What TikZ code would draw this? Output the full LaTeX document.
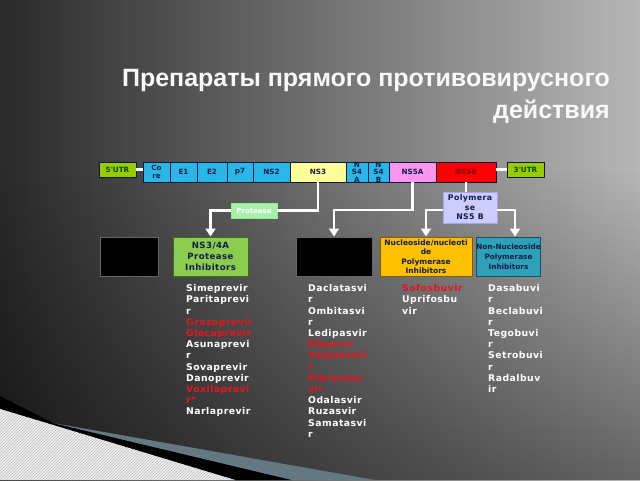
\documentclass[tikz,border=0pt]{standalone}
\usepackage{fontspec}
\setmainfont{Liberation Sans}
\newfontfamily\djv{DejaVu Sans}
\newfontfamily\djvs{DejaVu Sans}[LetterSpace=5]
\usetikzlibrary{arrows.meta,fadings,patterns}
\definecolor{bgL}{RGB}{42,42,42}
\definecolor{bgM}{RGB}{155,155,155}
\definecolor{bgR}{RGB}{182,182,182}
\definecolor{utrg}{RGB}{153,204,0}
\definecolor{cyanc}{RGB}{41,182,232}
\definecolor{ylw}{RGB}{255,255,153}
\definecolor{pnk}{RGB}{250,150,240}
\definecolor{rd}{RGB}{255,0,0}
\definecolor{navy}{RGB}{15,30,70}
\definecolor{protg}{RGB}{170,240,170}
\definecolor{lav}{RGB}{204,204,255}
\definecolor{grn}{RGB}{140,205,80}
\definecolor{grnb}{RGB}{60,110,30}
\definecolor{org}{RGB}{255,192,0}
\definecolor{orgb}{RGB}{130,90,20}
\definecolor{teal}{RGB}{46,160,185}
\definecolor{tealb}{RGB}{20,80,100}
\definecolor{lred}{RGB}{230,20,30}
\definecolor{bluegray}{RGB}{100,120,130}
\begin{document}
\begin{tikzpicture}[x=1pt,y=-1pt,
  cell/.style={draw=navy!80!black, line width=0.9pt, fill=cyanc, minimum height=20pt,
    inner sep=0pt, align=center, text=navy, font=\djv\bfseries\fontsize{7.2}{7.4}\selectfont},
  utr/.style={cell, fill=utrg, minimum height=15pt, text=black!70!green},
  bigbox/.style={draw, line width=1pt, minimum height=39pt, inner sep=0pt, align=center,
    text=navy, font=\djvs\bfseries\fontsize{8.6}{11}\selectfont},
  blkbox/.style={bigbox, fill=black, draw=black!60!white},
  conn/.style={draw=white, line width=2.2pt},
  arr/.style={conn, -{Triangle[width=10pt,length=8pt]}},
  druglist/.style={anchor=north west, inner sep=0pt, align=left, text=white,
    font=\djvs\bfseries\fontsize{9.3}{11.2}\selectfont}
]
\useasboundingbox (0,0) rectangle (640,480);
% background
\shade[left color=bgL, middle color=bgM, right color=bgR] (0,0) rectangle (640,480);
\fill[black, opacity=0.45, path fading=north] (0,170) rectangle (640,480);
% bottom-left decoration
\fill[black] (0,396) -- (53,423) -- (292,480) -- (235,480) -- (0,409) -- cycle;
\fill[bluegray] (53,423) -- (375,480) -- (292,480) -- cycle;
\fill[white!88!gray] (0,409) -- (235,480) -- (0,480) -- cycle;
\fill[pattern=north east lines, pattern color=gray!50] (0,409) -- (235,480) -- (0,480) -- cycle;
% title
\node[anchor=base east, inner sep=0pt, text=white!95!gray, font=\bfseries\fontsize{25}{30}\selectfont] (t1) at (610,86) {Препараты прямого противовирусного};
\node[anchor=base east, inner sep=0pt, text=white!95!gray, font=\bfseries\fontsize{25}{30}\selectfont] (t2) at (610,118) {действия};
% genome
\node[utr, minimum width=37pt] (utr5) at (117.5,169.5) {5'UTR};
\node[cell, minimum width=27pt] (core) at (156.5,172) {Co\\re};
\node[cell, minimum width=27pt] (e1) at (183.5,172) {E1};
\node[cell, minimum width=30pt] (e2) at (212,172) {E2};
\node[cell, minimum width=26pt] (p7) at (240,172) {p7};
\node[cell, minimum width=37pt] (ns2) at (271.5,172) {NS2};
\node[cell, minimum width=56pt, fill=ylw] (ns3) at (318,172) {NS3};
\node[cell, minimum width=22pt] (ns4a) at (357,172) {N\\S4\\A};
\node[cell, minimum width=21pt] (ns4b) at (378.5,172) {N\\S4\\B};
\node[cell, minimum width=47pt, fill=pnk] (ns5a) at (412.5,172) {NS5A};
\node[cell, minimum width=60pt, fill=rd, text=red!50!black] (ns5b) at (466,172) {NS5B};
\node[utr, minimum width=37pt] (utr3) at (525.5,169.5) {3'UTR};
\draw[conn] (utr5.east) -- (core.west |- utr5.east);
\draw[conn] (ns5b.east |- utr3.west) -- (utr3.west);
% middle boxes
\node[draw=protg!80!green, fill=protg, minimum width=46pt, minimum height=15.5pt, inner sep=0pt,
  text=white, font=\djv\bfseries\fontsize{7}{7}\selectfont] (prot) at (254,210.5) {Protease};
\node[draw=lav!80!blue, fill=lav, minimum width=54pt, minimum height=31pt, inner sep=0pt, align=center,
  text=navy, font=\djvs\bfseries\fontsize{7.8}{9.5}\selectfont] (pol) at (470,207.5) {Polymera\\se\\NS5 B};
\node[blkbox, minimum width=58pt] (blk1) at (129,256.5) {};
\node[bigbox, fill=grn, draw=grnb, minimum width=75pt] (nsp) at (210.5,256.5) {NS3/4A\\Protease\\Inhibitors};
\node[blkbox, minimum width=76pt] (blk2) at (334,256.5) {};
\node[bigbox, fill=org, draw=orgb, minimum width=92pt, font=\djv\bfseries\fontsize{7.5}{9.5}\selectfont] (nuc) at (426,256.5) {Nucleoside/nucleoti\\de\\Polymerase\\Inhibitors};
\node[bigbox, fill=teal, draw=tealb, minimum width=63pt, font=\djv\bfseries\fontsize{7.3}{10}\selectfont] (nonnuc) at (508.5,256.5) {Non-Nucleoside\\Polymerase\\Inhibitors};
% connectors
\draw[conn] (ns3.south) -- (ns3.south |- prot.east) -- (prot.east);
\draw[arr] (prot.west) -| (nsp.north);
\draw[arr] (ns5a.south) -- (ns5a.south |- 0,210) -| (blk2.north);
\draw[conn] (ns5b.south) -- (ns5b.south |- pol.north);
\draw[arr] (pol.west |- 0,210) -| (nuc.north);
\coordinate (nnin) at ([xshift=6.5pt]nonnuc.north);
\draw[arr] (pol.east |- 0,210) -| (nnin);
% drug lists
\node[druglist] (l1) at (186,284.5) {Simeprevir\\Paritaprevi\\r\\\textcolor{lred}{Grazoprevir}\\\textcolor{lred}{Glecaprevir}\\Asunaprevi\\r\\Sovaprevir\\Danoprevir\\\textcolor{lred}{Voxilaprevi}\\\textcolor{lred}{r*}\\Narlaprevir};
\node[druglist] (l2) at (308,284.5) {Daclatasvi\\r\\Ombitasvi\\r\\Ledipasvir\\\textcolor{lred}{Elbasvir}\\\textcolor{lred}{Velpatasvi}\\\textcolor{lred}{r}\\\textcolor{lred}{Pibrentas}\\\textcolor{lred}{vir}\\Odalasvir\\Ruzasvir\\Samatasvi\\r};
\node[druglist] (l3) at (402,284.5) {\textcolor{lred}{Sofosbuvir}\\Uprifosbu\\vir};
\node[druglist] (l4) at (488,284.5) {Dasabuvi\\r\\Beclabuvi\\r\\Tegobuvi\\r\\Setrobuvi\\r\\Radalbuv\\ir};
\end{tikzpicture}
\end{document}
